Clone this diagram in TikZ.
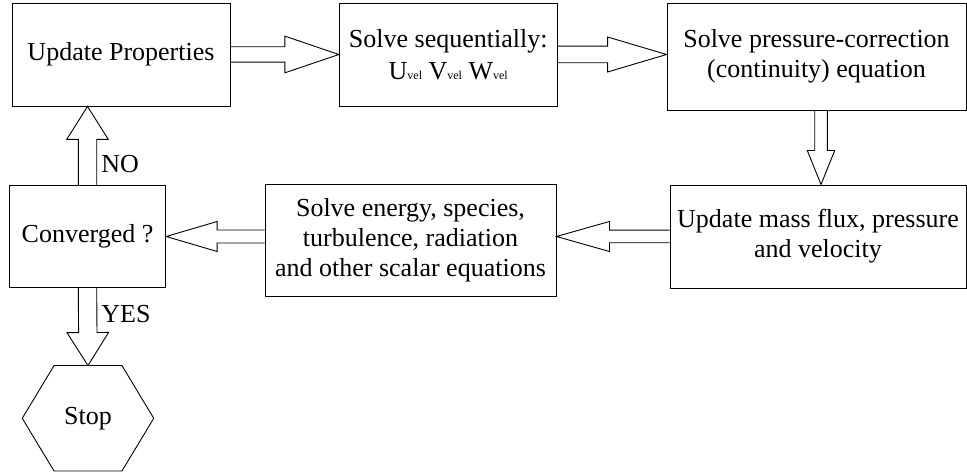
\documentclass[tikz,border=0pt]{standalone}
\usepackage{fontspec}
\setmainfont{Liberation Serif}
\usetikzlibrary{calc}
\newcommand{\vsub}[1]{{\fontsize{6}{7}\selectfont #1}}
% block arrow: from, to, shaft half width, head half width, head length
\newcommand{\blockarrow}[5]{%
  \coordinate (bahead) at ($(#2)!#5!(#1)$);
  \draw[blockline] ($(#1)!#3!90:(#2)$) -- ($(bahead)!#3!90:(#2)$) -- ($(bahead)!#4!90:(#2)$) -- (#2)
    -- ($(bahead)!#4!-90:(#2)$) -- ($(bahead)!#3!-90:(#2)$) -- ($(#1)!#3!-90:(#2)$);
}
\tikzset{
  blockline/.style={line width=0.45pt, line join=miter},
  box/.style={draw, line width=0.45pt, align=center, inner sep=0pt, font=\fontsize{13}{15}\selectfont},
  lbl/.style={inner sep=0pt, font=\fontsize{13}{15}\selectfont},
  hexbox/.style={inner sep=0pt, minimum width=65.35pt, minimum height=52.35pt, font=\fontsize{13}{15}\selectfont}
}
\begin{document}
\begin{tikzpicture}[x=0.5pt,y=-0.5pt]
\useasboundingbox (0,0) rectangle (967,474);
\node[box, minimum width=109pt, minimum height=51.5pt] (b1) at (121,54.5) {Update Properties};
\node[box, minimum width=108.85pt, minimum height=51.5pt] (b2) at (448.2,54.5) {Solve sequentially:\\[1pt]U\vsub{vel} V\vsub{vel} W\vsub{vel}};
\node[box, minimum width=149.5pt, minimum height=53.5pt] (b3) at (816.5,56.5) {Solve pressure-correction\\(continuity) equation};
\node[box, minimum width=148pt, minimum height=51.5pt] (b4) at (818,236.5) {Update mass flux, pressure\\and velocity};
\node[box, minimum width=145.5pt, minimum height=56pt] (b5) at (410.5,240) {Solve energy, species,\\turbulence, radiation\\and other scalar equations};
\node[box, minimum width=78.2pt, minimum height=50.65pt] (b6) at (87.5,236.35) {Converged ?};
\node[hexbox] (stop) at (88,418.3) {Stop};
\draw[blockline] (stop.west) -- ($(stop.north west)!0.242!(stop.north east)$) -- ($(stop.north west)!0.758!(stop.north east)$)
  -- (stop.east) -- ($(stop.south west)!0.758!(stop.south east)$) -- ($(stop.south west)!0.242!(stop.south east)$) -- cycle;
\node[lbl, anchor=base west] (no) at (101,173) {NO};
\node[lbl, anchor=base west] (yes) at (101,323) {YES};
% arrow end points
\coordinate (a2e) at (b3.west |- b2.east);
\coordinate (a3s) at ($(b3.south)+(4.5,0)$);
\coordinate (a3e) at (a3s |- b4.north);
\coordinate (a4e) at (b5.east |- b4.west);
\coordinate (a5s) at (b5.west |- b4.west);
\coordinate (a5e) at (b6.east |- b4.west);
\coordinate (noe) at (b6.north |- b1.south);
% arrows
\blockarrow{b1.east}{b2.west}{3.85pt}{9.15pt}{27pt}
\blockarrow{b2.east}{a2e}{4.15pt}{8.75pt}{29.5pt}
\blockarrow{a3s}{a3e}{3.15pt}{6.85pt}{17pt}
\blockarrow{b4.west}{a4e}{3.15pt}{7.5pt}{26.5pt}
\blockarrow{a5s}{a5e}{3.25pt}{7.5pt}{25.5pt}
\blockarrow{b6.north}{noe}{4.6pt}{10.4pt}{16.5pt}
\blockarrow{b6.south}{stop.north}{4.6pt}{10.4pt}{16.5pt}
\end{tikzpicture}
\end{document}
